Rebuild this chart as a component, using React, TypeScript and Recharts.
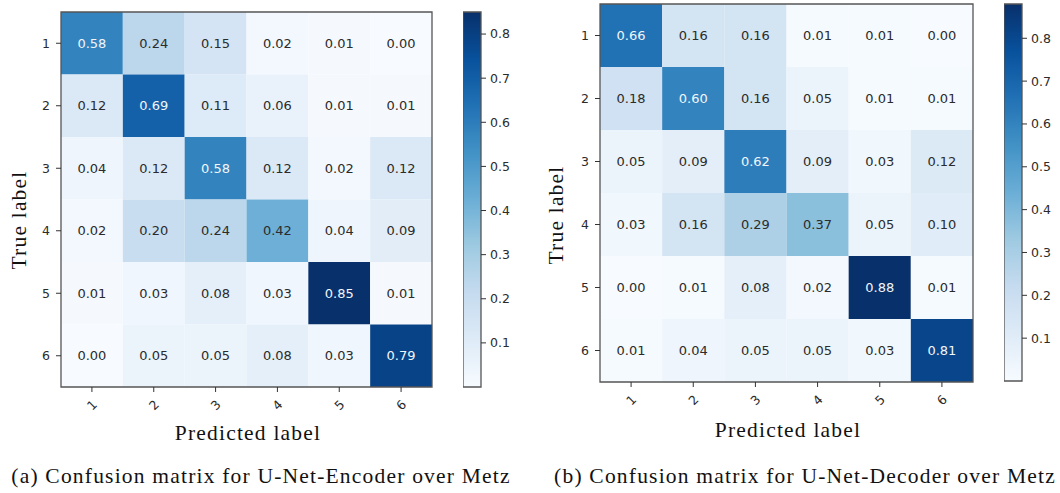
import {
  ReferenceArea,
  Scatter,
  ScatterChart,
  XAxis,
  YAxis,
  ComposedChart,
} from "recharts";

const classLabels = [1, 2, 3, 4, 5, 6];

const encoderMatrix = [
  [0.58, 0.24, 0.15, 0.02, 0.01, 0.0],
  [0.12, 0.69, 0.11, 0.06, 0.01, 0.01],
  [0.04, 0.12, 0.58, 0.12, 0.02, 0.12],
  [0.02, 0.2, 0.24, 0.42, 0.04, 0.09],
  [0.01, 0.03, 0.08, 0.03, 0.85, 0.01],
  [0.0, 0.05, 0.05, 0.08, 0.03, 0.79],
];

const decoderMatrix = [
  [0.66, 0.16, 0.16, 0.01, 0.01, 0.0],
  [0.18, 0.6, 0.16, 0.05, 0.01, 0.01],
  [0.05, 0.09, 0.62, 0.09, 0.03, 0.12],
  [0.03, 0.16, 0.29, 0.37, 0.05, 0.1],
  [0.0, 0.01, 0.08, 0.02, 0.88, 0.01],
  [0.01, 0.04, 0.05, 0.05, 0.03, 0.81],
];

const colorbarTicks = [0.1, 0.2, 0.3, 0.4, 0.5, 0.6, 0.7, 0.8];

// matplotlib "Blues"
const bluesStops = [
  "#f7fbff",
  "#deebf7",
  "#c6dbef",
  "#9ecae1",
  "#6baed6",
  "#4292c6",
  "#2171b5",
  "#08519c",
  "#08306b",
];

function hexToRgb(hex: string) {
  const n = parseInt(hex.slice(1), 16);
  return [(n >> 16) & 255, (n >> 8) & 255, n & 255];
}

function blues(t: number) {
  const c = Math.max(0, Math.min(1, t)) * (bluesStops.length - 1);
  const i = Math.min(Math.floor(c), bluesStops.length - 2);
  const f = c - i;
  const a = hexToRgb(bluesStops[i]);
  const b = hexToRgb(bluesStops[i + 1]);
  const rgb = a.map((v, k) => Math.round(v + (b[k] - v) * f));
  return `rgb(${rgb.join(",")})`;
}

const sans = "'DejaVu Sans', sans-serif";
const serif = "'Liberation Serif', serif";
const textDark = "#2b2b2b";
const frame = "#555";

type Cell = { x: number; y: number; v: number };

function toCells(matrix: number[][]): Cell[] {
  const cells: Cell[] = [];
  matrix.forEach((row, r) =>
    row.forEach((v, c) => cells.push({ x: classLabels[c], y: classLabels[r], v }))
  );
  return cells;
}

function RotatedTick(props: any) {
  const { x, y, payload } = props;
  return (
    <g transform={`translate(${x},${y + 9})`}>
      <text
        transform="rotate(-45)"
        textAnchor="middle"
        dominantBaseline="central"
        fontSize={12.5}
        fontFamily={sans}
        fill={textDark}
      >
        {payload.value}
      </text>
    </g>
  );
}

type Box = { x: number; y: number; w: number; h: number };

function Matrix({ matrix, plot, vmax }: { matrix: number[][]; plot: Box; vmax: number }) {
  const cells = toCells(matrix);
  const yAxisW = 40;
  const xAxisH = 36;
  return (
    <div style={{ position: "absolute", left: plot.x - yAxisW, top: plot.y - 2 }}>
      <ScatterChart
        width={yAxisW + plot.w + 2}
        height={plot.h + 2 + xAxisH}
        margin={{ top: 2, right: 2, bottom: 0, left: 0 }}
      >
        <XAxis
          type="number"
          dataKey="x"
          domain={[0.5, 6.5]}
          ticks={classLabels}
          allowDataOverflow
          height={xAxisH}
          axisLine={false}
          tickSize={5}
          tickMargin={4}
          tickLine={{ stroke: "#333" }}
          tick={<RotatedTick />}
        />
        <YAxis
          type="number"
          dataKey="y"
          domain={[0.5, 6.5]}
          ticks={classLabels}
          reversed
          allowDataOverflow
          width={yAxisW}
          axisLine={false}
          tickSize={5}
          tickMargin={6}
          tickLine={{ stroke: "#333" }}
          tick={{ fontSize: 12.5, fontFamily: sans, fill: textDark }}
        />
        {cells.map((c) => (
          <ReferenceArea
            key={`${c.x}-${c.y}`}
            x1={c.x - 0.5}
            x2={c.x + 0.5}
            y1={c.y - 0.5}
            y2={c.y + 0.5}
            fill={blues(c.v / vmax)}
            fillOpacity={1}
            stroke="none"
          />
        ))}
        <ReferenceArea
          x1={0.5}
          x2={6.5}
          y1={0.5}
          y2={6.5}
          fill="none"
          stroke={frame}
          strokeWidth={1.3}
        />
        <Scatter
          data={cells}
          isAnimationActive={false}
          shape={(p: any) => (
            <text
              x={p.cx}
              y={p.cy}
              textAnchor="middle"
              dominantBaseline="central"
              fontSize={13}
              fontFamily={sans}
              fill={p.payload.v > vmax / 2 ? "#f2f6fa" : textDark}
            >
              {p.payload.v.toFixed(2)}
            </text>
          )}
        />
      </ScatterChart>
    </div>
  );
}

function Colorbar({ bar, vmax, gradId }: { bar: Box; vmax: number; gradId: string }) {
  const axisW = 46;
  return (
    <div style={{ position: "absolute", left: bar.x, top: bar.y - 1 }}>
      <ComposedChart
        width={bar.w + axisW}
        height={bar.h + 2}
        margin={{ top: 1, right: 0, bottom: 1, left: 0 }}
        data={colorbarTicks.map((v) => ({ x: 0.5, v }))}
      >
        <XAxis type="number" dataKey="x" domain={[0, 1]} hide />
        <YAxis
          type="number"
          dataKey="v"
          orientation="right"
          domain={[0, vmax]}
          ticks={colorbarTicks}
          allowDataOverflow
          width={axisW}
          axisLine={false}
          tickSize={5}
          tickMargin={4}
          tickLine={{ stroke: "#333" }}
          tick={{ fontSize: 12.5, fontFamily: sans, fill: textDark }}
        />
        <ReferenceArea
          x1={0}
          x2={1}
          y1={0}
          y2={vmax}
          fill={`url(#${gradId})`}
          fillOpacity={1}
          stroke={frame}
          strokeWidth={1.3}
        />
      </ComposedChart>
    </div>
  );
}

function Text({
  x,
  y,
  children,
  rotate = 0,
}: {
  x: number;
  y: number;
  children: string;
  rotate?: number;
}) {
  return (
    <div
      style={{
        position: "absolute",
        left: x,
        top: y,
        transform: `translate(-50%, -50%) rotate(${rotate}deg)`,
        fontFamily: serif,
        fontSize: 21.5,
        letterSpacing: 1.2,
        color: "#111",
        whiteSpace: "nowrap",
        lineHeight: 1,
      }}
    >
      {children}
    </div>
  );
}

export default function App() {
  return (
    <div
      style={{
        position: "absolute",
        left: 0,
        top: 0,
        width: 1060,
        height: 493,
        background: "#fff",
        overflow: "hidden",
      }}
    >
      <svg width={0} height={0} style={{ position: "absolute" }}>
        <defs>
          <linearGradient id="bluesGrad" x1="0" y1="1" x2="0" y2="0">
            {bluesStops.map((c, i) => (
              <stop key={c} offset={i / (bluesStops.length - 1)} stopColor={c} />
            ))}
          </linearGradient>
        </defs>
      </svg>

      <Matrix matrix={encoderMatrix} plot={{ x: 61, y: 12, w: 371, h: 375 }} vmax={0.85} />
      <Colorbar bar={{ x: 463, y: 12, w: 18, h: 375 }} vmax={0.85} gradId="bluesGrad" />
      <Text x={20} y={220} rotate={-90}>True label</Text>
      <Text x={248} y={434}>Predicted label</Text>
      <Text x={261} y={477}>(a) Confusion matrix for U-Net-Encoder over Metz</Text>

      <Matrix matrix={decoderMatrix} plot={{ x: 600, y: 4, w: 373, h: 378 }} vmax={0.88} />
      <Colorbar bar={{ x: 1004, y: 4, w: 18, h: 377 }} vmax={0.88} gradId="bluesGrad" />
      <Text x={557} y={215} rotate={-90}>True label</Text>
      <Text x={788} y={431}>Predicted label</Text>
      <Text x={805} y={477}>(b) Confusion matrix for U-Net-Decoder over Metz</Text>
    </div>
  );
}
